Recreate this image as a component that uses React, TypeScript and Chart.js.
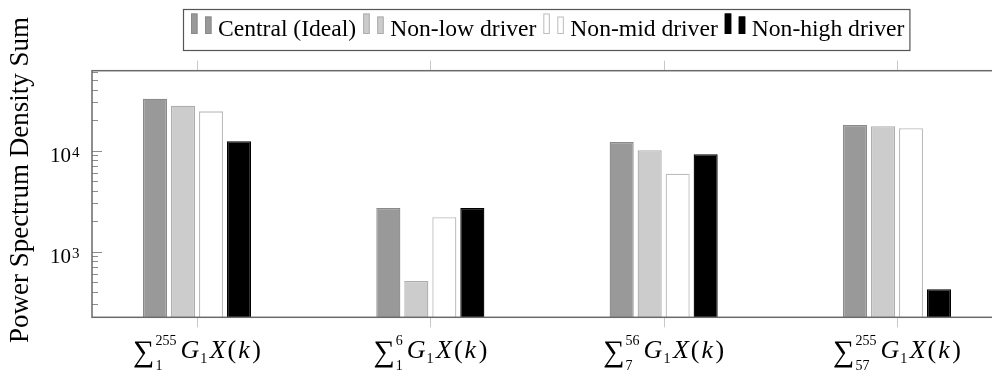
import { useEffect, useRef } from 'react';
import { Chart, registerables } from 'chart.js';

Chart.register(...registerables);

// ---- data ----
const categoryLower = ['1', '1', '7', '57'];
const categoryUpper = ['255', '6', '56', '255'];
const seriesNames = ['Central (Ideal)', 'Non-low driver', 'Non-mid driver', 'Non-high driver'];
const central = [32700, 2710, 12200, 17950];
const nonLow = [27900, 513, 10090, 17450];
const nonMid = [24500, 2190, 5910, 16670];
const nonHigh = [12400, 2710, 9210, 425];
const yTickValues = [1000, 10000];
const yTickBase = ['10', '10'];
const yTickExp = ['3', '4'];
const yTitle = 'Power Spectrum Density Sum';

const seriesValues = [central, nonLow, nonMid, nonHigh];
const fills = ['#999999', '#cccccc', '#ffffff', '#000000'];
const borders = ['#8a8a8a', '#adadad', '#bcbcbc', '#000000'];

const SERIF = '"Liberation Serif", "Times New Roman", serif';

function line(ctx: CanvasRenderingContext2D, x1: number, y1: number, x2: number, y2: number) {
  ctx.beginPath();
  ctx.moveTo(x1, y1);
  ctx.lineTo(x2, y2);
  ctx.stroke();
}

function drawSumLabel(ctx: CanvasRenderingContext2D, cx: number, baseY: number, lower: string, upper: string) {
  const sumFont = `30px ${SERIF}`;
  const scriptFont = `14px ${SERIF}`;
  const it = `italic 26px ${SERIF}`;
  const up = `26px ${SERIF}`;
  const measure = (t: string, f: string) => { ctx.font = f; return ctx.measureText(t).width; };
  const wSum = measure('\u2211', sumFont);
  const wScr = Math.max(measure(upper, scriptFont), measure(lower, scriptFont));
  const parts: [string, string, number, number][] = [
    ['G', it, 0, 1],
    ['1', scriptFont, 5, 2.5],
    ['X', it, 0, 2],
    ['(', up, 0, 2],
    ['k', it, 0, 2.5],
    [')', up, 0, 0],
  ];
  let total = wSum + 1 + wScr + 4;
  parts.forEach(p => { total += measure(p[0], p[1]) + p[3]; });
  let x = cx - total / 2;
  ctx.fillStyle = '#000';
  ctx.textAlign = 'left';
  ctx.textBaseline = 'alphabetic';
  ctx.font = sumFont;
  ctx.fillText('\u2211', x, baseY + 3);
  x += wSum + 1;
  ctx.font = scriptFont;
  ctx.fillText(upper, x, baseY - 13);
  ctx.fillText(lower, x, baseY + 12);
  x += wScr + 4;
  parts.forEach(p => {
    ctx.font = p[1];
    ctx.fillText(p[0], x, baseY + p[2]);
    x += ctx.measureText(p[0]).width + p[3];
  });
}

const decorPlugin = {
  id: 'pgfDecor',
  afterDatasetsDraw(chart: any) {
    const { ctx, chartArea: a, scales } = chart;
    const xs = scales.x;
    const ys = scales.y;
    ctx.save();
    // category ticks (outside, top and bottom)
    ctx.strokeStyle = '#c8c8c8';
    ctx.lineWidth = 1;
    categoryLower.forEach((_, i) => {
      const px = Math.round(xs.getPixelForValue(i)) + 0.5;
      line(ctx, px, a.bottom, px, a.bottom + 10);
      line(ctx, px, a.top - 10, px, a.top);
    });
    // y ticks inside, both sides
    ctx.strokeStyle = '#8c8c8c';
    for (let d = 2; d <= 5; d++) {
      for (let m = 1; m <= 9; m++) {
        const v = m * Math.pow(10, d);
        if (v < ys.min || v > ys.max) continue;
        const py = Math.round(ys.getPixelForValue(v)) + 0.5;
        const len = m === 1 ? 10 : 6;
        line(ctx, a.left, py, a.left + len, py);
        line(ctx, a.right, py, a.right - len, py);
      }
    }
    // frame
    ctx.strokeStyle = '#6a6a6a';
    ctx.lineWidth = 1.5;
    ctx.strokeRect(a.left, a.top, a.right - a.left, a.bottom - a.top);

    // y tick labels
    ctx.fillStyle = '#000';
    yTickValues.forEach((v, i) => {
      const py = ys.getPixelForValue(v);
      ctx.font = `21px ${SERIF}`;
      ctx.textAlign = 'right';
      ctx.textBaseline = 'alphabetic';
      ctx.fillText(yTickBase[i], a.left - 21, py + 11.5);
      ctx.font = `15px ${SERIF}`;
      ctx.textAlign = 'left';
      ctx.fillText(yTickExp[i], a.left - 20, py + 6.5);
    });

    // x labels
    categoryLower.forEach((lo, i) => {
      drawSumLabel(ctx, xs.getPixelForValue(i), a.bottom + 41, lo, categoryUpper[i]);
    });

    // y title
    ctx.save();
    ctx.translate(21, 180);
    ctx.rotate(-Math.PI / 2);
    ctx.font = `27px ${SERIF}`;
    ctx.textAlign = 'center';
    ctx.textBaseline = 'middle';
    ctx.fillStyle = '#000';
    ctx.fillText(yTitle, 0, 0);
    ctx.restore();

    // legend
    const boxLeft = 183;
    const boxTop = 9;
    const boxBottom = 50;
    const lf = `23.6px ${SERIF}`;
    ctx.font = lf;
    let x = boxLeft + 8;
    const positions: number[] = [];
    seriesNames.forEach(n => {
      positions.push(x);
      x += 27 + ctx.measureText(n).width + 7;
    });
    const boxRight = x - 7 + 5;
    ctx.fillStyle = '#fff';
    ctx.fillRect(boxLeft, boxTop, boxRight - boxLeft, boxBottom - boxTop);
    ctx.strokeStyle = '#555';
    ctx.lineWidth = 1.2;
    ctx.strokeRect(boxLeft + 0.5, boxTop + 0.5, boxRight - boxLeft, boxBottom - boxTop);
    seriesNames.forEach((n, i) => {
      const px = positions[i];
      ctx.fillStyle = fills[i];
      ctx.strokeStyle = borders[i];
      ctx.lineWidth = 1;
      ctx.fillRect(px, 13.5, 6.5, 20.5);
      ctx.strokeRect(px + 0.5, 14, 5.5, 19.5);
      ctx.fillRect(px + 14, 16.5, 6.5, 17.5);
      ctx.strokeRect(px + 14.5, 17, 5.5, 16.5);
      ctx.fillStyle = '#000';
      ctx.font = lf;
      ctx.textAlign = 'left';
      ctx.textBaseline = 'alphabetic';
      ctx.fillText(n, px + 27, 35.5);
    });
    ctx.restore();
  },
};

export default function App() {
  const ref = useRef<HTMLCanvasElement | null>(null);
  useEffect(() => {
    document.body.style.margin = '0';
    const canvas = ref.current;
    if (!canvas) return;
    const chart = new Chart(canvas, {
      type: 'bar',
      data: {
        datasets: seriesNames.map((name, s) => ({
          label: name,
          data: seriesValues[s].map((v, i) => ({ x: i, y: v })),
          backgroundColor: fills[s],
          borderColor: borders[s],
          borderWidth: 1.3,
          categoryPercentage: 0.48,
          barPercentage: 0.86,
        })),
      },
      options: {
        animation: false,
        responsive: false,
        devicePixelRatio: 1,
        layout: { padding: { top: 70.7, right: 10, left: 0, bottom: 0 } },
        plugins: { legend: { display: false }, tooltip: { enabled: false } },
        scales: {
          x: {
            type: 'linear',
            offset: false,
            min: -0.45,
            max: 3.45,
            grid: { display: false },
            border: { display: false },
            ticks: { display: false },
            afterBuildTicks: (s: any) => { s.ticks = categoryLower.map((_, i) => ({ value: i })); },
            afterFit: (s: any) => { s.height = 56.7; },
          },
          y: {
            type: 'logarithmic',
            min: 224,
            max: 61900,
            grid: { display: false },
            border: { display: false },
            ticks: { display: false },
            afterFit: (s: any) => { s.width = 92; },
          },
        },
      },
      plugins: [decorPlugin],
    } as any);
    return () => chart.destroy();
  }, []);
  return (
    <div style={{ width: 992, height: 374, overflow: 'hidden', position: 'relative', background: '#fff' }}>
      <canvas ref={ref} width={1012} height={374} style={{ display: 'block' }} />
    </div>
  );
}
